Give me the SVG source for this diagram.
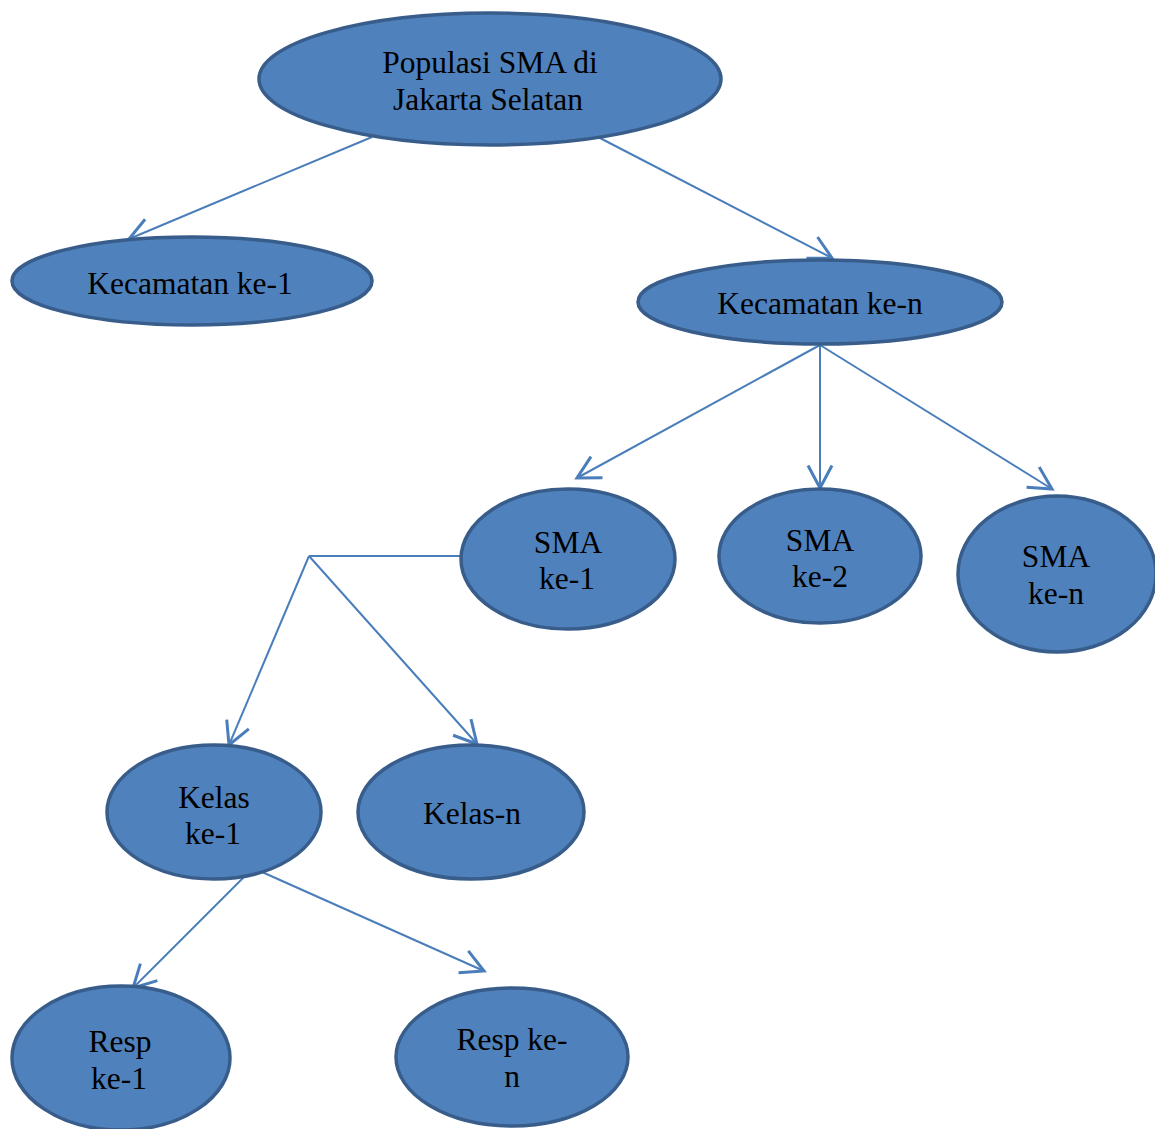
<svg xmlns="http://www.w3.org/2000/svg" width="1155" height="1129" viewBox="0 0 1155 1129">
<style>
.node{fill:#4F81BD;stroke:#385D8A;stroke-width:3.5}
.lbl{font-family:'Liberation Serif','Times New Roman',Times,'DejaVu Serif',serif;font-size:31.5px;fill:#000;text-anchor:middle}
.con{stroke:#4A7EBB;stroke-width:2;fill:none}
</style>
<defs>
<marker id="arr" markerUnits="userSpaceOnUse" markerWidth="30" markerHeight="30" refX="0" refY="0" viewBox="-16 -10 18 20" orient="auto" overflow="visible">
<path d="M-15,-8 L0,0 L-15,8" fill="none" stroke="#4A7EBB" stroke-width="2"/>
</marker>
</defs>
<rect width="1155" height="1129" fill="#fff"/>
<g id="connectors">
<line class="con" x1="372" y1="137" x2="129" y2="239" marker-end="url(#arr)"/>
<line class="con" x1="598" y1="137" x2="832" y2="258" marker-end="url(#arr)"/>
<line class="con" x1="820" y1="345" x2="577" y2="478" marker-end="url(#arr)"/>
<line class="con" x1="820" y1="345" x2="820" y2="488" marker-end="url(#arr)"/>
<line class="con" x1="820" y1="345" x2="1052" y2="489" marker-end="url(#arr)"/>
<line class="con" x1="461" y1="556" x2="309" y2="556"/>
<line class="con" x1="309" y1="556" x2="229" y2="745" marker-end="url(#arr)"/>
<line class="con" x1="309" y1="556" x2="477" y2="744" marker-end="url(#arr)"/>
<line class="con" x1="246" y1="875" x2="133" y2="988" marker-end="url(#arr)"/>
<line class="con" x1="262" y1="872" x2="484" y2="971" marker-end="url(#arr)"/>
</g>
<g id="populasi">
<ellipse class="node" cx="490" cy="79" rx="231" ry="66"/>
<text class="lbl" x="490" y="73">Populasi SMA di</text>
<text class="lbl" x="488" y="110">Jakarta Selatan</text>
</g>
<g id="kecamatan1">
<ellipse class="node" cx="192" cy="281" rx="180" ry="44"/>
<text class="lbl" x="190" y="294">Kecamatan ke-1</text>
</g>
<g id="kecamatann">
<ellipse class="node" cx="820" cy="302" rx="182" ry="42"/>
<text class="lbl" x="820" y="314">Kecamatan ke-n</text>
</g>
<g id="sma1">
<ellipse class="node" cx="568" cy="559" rx="107" ry="70"/>
<text class="lbl" x="568" y="553">SMA</text>
<text class="lbl" x="567" y="589">ke-1</text>
</g>
<g id="sma2">
<ellipse class="node" cx="820" cy="556" rx="101" ry="67"/>
<text class="lbl" x="820" y="551">SMA</text>
<text class="lbl" x="820" y="587">ke-2</text>
</g>
<g id="sman">
<ellipse class="node" cx="1057" cy="574" rx="99" ry="78"/>
<text class="lbl" x="1056" y="567">SMA</text>
<text class="lbl" x="1056" y="604">ke-n</text>
</g>
<g id="kelas1">
<ellipse class="node" cx="214" cy="812" rx="107" ry="67"/>
<text class="lbl" x="214" y="808">Kelas</text>
<text class="lbl" x="213" y="844">ke-1</text>
</g>
<g id="kelasn">
<ellipse class="node" cx="471" cy="812" rx="113" ry="67"/>
<text class="lbl" x="472" y="824">Kelas-n</text>
</g>
<g id="resp1">
<ellipse class="node" cx="121" cy="1058" rx="109" ry="72"/>
<text class="lbl" x="120" y="1052">Resp</text>
<text class="lbl" x="119" y="1089">ke-1</text>
</g>
<g id="respn">
<ellipse class="node" cx="512" cy="1057" rx="116" ry="69"/>
<text class="lbl" x="512" y="1050">Resp ke-</text>
<text class="lbl" x="512" y="1087">n</text>
</g>
</svg>
